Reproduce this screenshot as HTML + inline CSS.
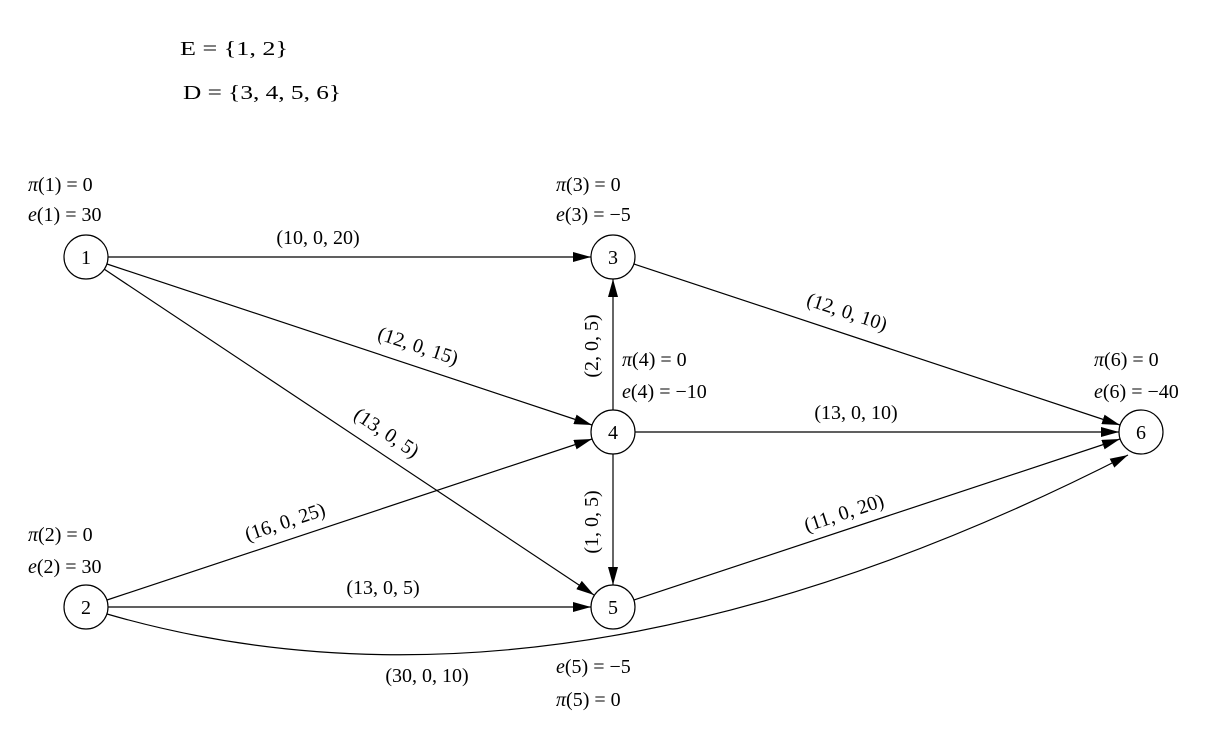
<!DOCTYPE html>
<html><head><meta charset="utf-8"><style>
html,body{margin:0;padding:0;background:#fff;}
text{font-family:"Liberation Serif",serif;font-size:20px;fill:#000;}
.i{font-style:italic;}
</style></head><body>
<svg width="1226" height="739" viewBox="0 0 1226 739" xmlns="http://www.w3.org/2000/svg">
<defs><marker id="a" markerWidth="18" markerHeight="10" refX="18" refY="5" orient="auto" markerUnits="userSpaceOnUse"><path d="M0,0 L18,5 L0,10 z" fill="#000"/></marker></defs>
<text x="180" y="55" textLength="108" lengthAdjust="spacingAndGlyphs">E = {1, 2}</text>
<text x="183" y="99" textLength="158" lengthAdjust="spacingAndGlyphs">D = {3, 4, 5, 6}</text>
<g stroke="#000" stroke-width="1.2" fill="none">
<line x1="108" y1="257" x2="591" y2="257" marker-end="url(#a)"/>
<line x1="107" y1="264" x2="592" y2="425" marker-end="url(#a)"/>
<line x1="104" y1="269" x2="594" y2="595" marker-end="url(#a)"/>
<line x1="107" y1="600" x2="592" y2="439" marker-end="url(#a)"/>
<line x1="108" y1="607" x2="591" y2="607" marker-end="url(#a)"/>
<path d="M107,614 Q560,745 1128,455" marker-end="url(#a)"/>
<line x1="613" y1="410" x2="613" y2="279" marker-end="url(#a)"/>
<line x1="613" y1="454" x2="613" y2="585" marker-end="url(#a)"/>
<line x1="635" y1="432" x2="1119" y2="432" marker-end="url(#a)"/>
<line x1="634" y1="264" x2="1120" y2="425" marker-end="url(#a)"/>
<line x1="634" y1="600" x2="1120" y2="439" marker-end="url(#a)"/>
<circle cx="86" cy="257" r="22" fill="#fff"/>
<circle cx="86" cy="607" r="22" fill="#fff"/>
<circle cx="613" cy="257" r="22" fill="#fff"/>
<circle cx="613" cy="432" r="22" fill="#fff"/>
<circle cx="613" cy="607" r="22" fill="#fff"/>
<circle cx="1141" cy="432" r="22" fill="#fff"/>
</g>
<g text-anchor="middle">
<text x="86" y="264">1</text><text x="86" y="614">2</text>
<text x="613" y="264">3</text><text x="613" y="439">4</text>
<text x="613" y="614">5</text><text x="1141" y="439">6</text>
<text x="318" y="244">(10, 0, 20)</text>
<text x="383" y="594">(13, 0, 5)</text>
<text x="856" y="419">(13, 0, 10)</text>
<text x="427" y="682">(30, 0, 10)</text>
<text transform="translate(416,352) rotate(18.4)">(12, 0, 15)</text>
<text transform="translate(383,438) rotate(33.6)">(13, 0, 5)</text>
<text transform="translate(287,528) rotate(-18.4)">(16, 0, 25)</text>
<text transform="translate(845,318) rotate(18.3)">(12, 0, 10)</text>
<text transform="translate(846,519) rotate(-18.3)">(11, 0, 20)</text>
<text transform="translate(598,346) rotate(-90)">(2, 0, 5)</text>
<text transform="translate(598,522) rotate(-90)">(1, 0, 5)</text>
</g>
<text x="28" y="191"><tspan class="i">π</tspan>(1) = 0</text>
<text x="28" y="221"><tspan class="i">e</tspan>(1) = 30</text>
<text x="28" y="541"><tspan class="i">π</tspan>(2) = 0</text>
<text x="28" y="573"><tspan class="i">e</tspan>(2) = 30</text>
<text x="556" y="191"><tspan class="i">π</tspan>(3) = 0</text>
<text x="556" y="221"><tspan class="i">e</tspan>(3) = −5</text>
<text x="622" y="366"><tspan class="i">π</tspan>(4) = 0</text>
<text x="622" y="398"><tspan class="i">e</tspan>(4) = −10</text>
<text x="556" y="673"><tspan class="i">e</tspan>(5) = −5</text>
<text x="556" y="706"><tspan class="i">π</tspan>(5) = 0</text>
<text x="1094" y="366"><tspan class="i">π</tspan>(6) = 0</text>
<text x="1094" y="398"><tspan class="i">e</tspan>(6) = −40</text>
</svg>
</body></html>
